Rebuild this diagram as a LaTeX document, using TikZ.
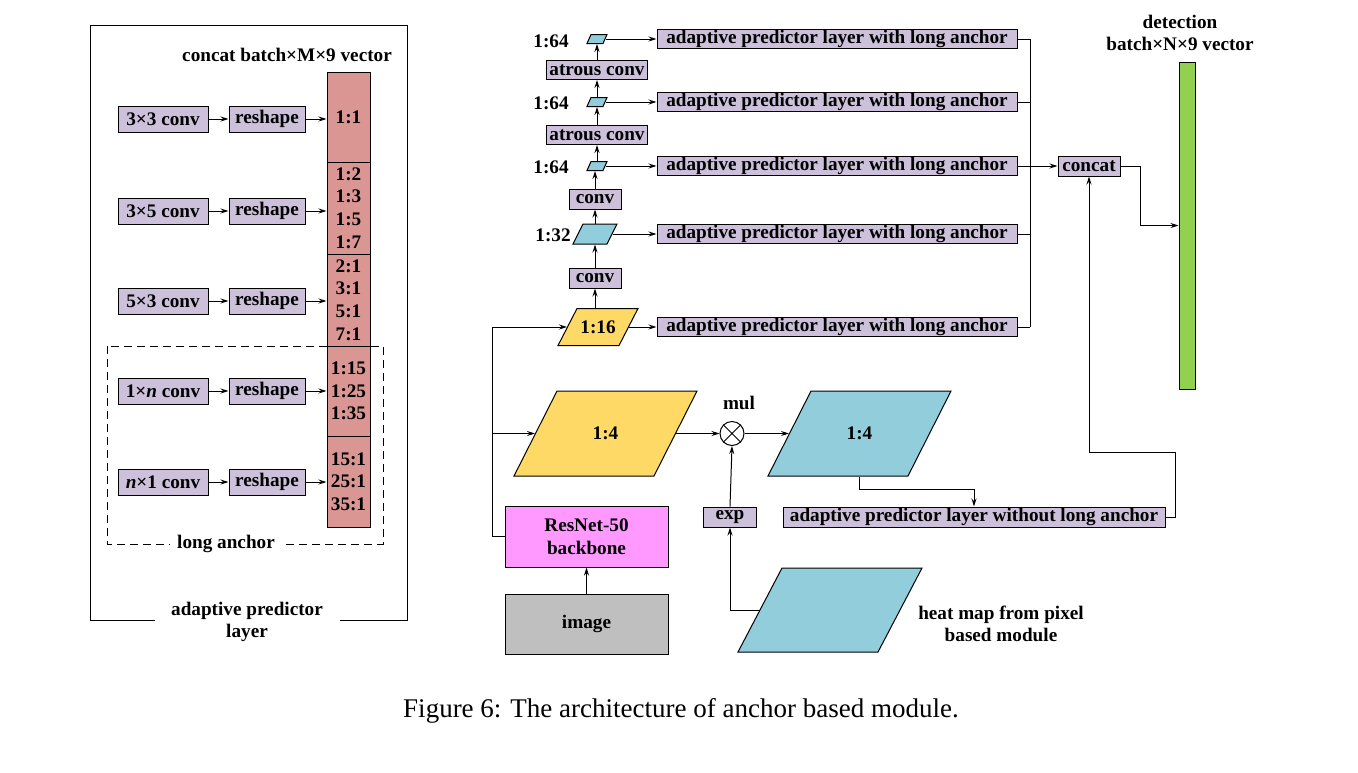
\documentclass[tikz,border=0pt]{standalone}
\usepackage{fontspec}
\setmainfont{Liberation Serif}
\usetikzlibrary{arrows.meta,calc}
\definecolor{lav}{RGB}{204,192,218}
\definecolor{colred}{RGB}{217,150,146}
\definecolor{yel}{RGB}{255,217,102}
\definecolor{cya}{RGB}{146,205,220}
\definecolor{grn}{RGB}{146,208,80}
\definecolor{mag}{RGB}{255,153,255}
\definecolor{gry}{RGB}{191,191,191}
\newcommand\fbx{\fontsize{19.2}{22.6}\selectfont\bfseries}
\newcommand\pgram[8]{%
  \draw[fill=#7,line join=miter] ({#2-#4/2},{#3+#5/2}) -- ({#2+#4/2-#6},{#3+#5/2}) -- ({#2+#4/2},{#3-#5/2}) -- ({#2-#4/2+#6},{#3-#5/2}) -- cycle;
  \node[inner sep=0pt, minimum width={(#4-#6)*1pt}, minimum height={#5*1pt}, font=\fbx] (#1) at (#2,#3) {#8};
}
\begin{document}
\begin{tikzpicture}[x=1pt,y=-1pt,line width=1pt,
  lbox/.style={draw, fill=lav, inner sep=0pt, minimum height=#1, font=\fbx},
  lbox/.default=26pt,
  seg/.style={draw, fill=colred, inner sep=0pt, minimum width=43pt, align=center, font=\fbx},
  arr/.style={-{Stealth[length=8pt,width=5pt]}},
  lbl/.style={font=\fbx, inner sep=0pt, align=center}]
\useasboundingbox (0,0) rectangle (1358,772);

% ---------- left panel ----------
\node[lbl, anchor=center] (apl) at (247,622) {adaptive predictor\\layer};
\draw (155,620) -| (90,25) -| (407,620) -- (340,620);
\node[lbl] (cat) at (287,55) {concat batch×M×9 vector};
\draw[dash pattern=on 8pt off 5pt] (107,346) rectangle (383,544);
\node[lbl, fill=white, inner xsep=7pt, inner ysep=2pt] (la) at (226,544) {long anchor};

\node[seg, minimum height=90pt] (s1) at (348.5,117) {1:1};
\node[seg, minimum height=92pt] (s2) at (348.5,208) {1:2\\1:3\\1:5\\1:7};
\node[seg, minimum height=92pt] (s3) at (348.5,300) {2:1\\3:1\\5:1\\7:1};
\node[seg, minimum height=90pt] (s4) at (348.5,391) {1:15\\1:25\\1:35};
\node[seg, minimum height=91pt] (s5) at (348.5,481.5) {15:1\\25:1\\35:1};

\node[lbox, minimum width=90pt] (c1) at (163,119) {3×3 conv};
\node[lbox, minimum width=90pt] (c2) at (163,211) {3×5 conv};
\node[lbox, minimum width=90pt] (c3) at (163,301) {5×3 conv};
\node[lbox, minimum width=90pt] (c4l) at (163,391) {1×\textit{n} conv};
\node[lbox, minimum width=90pt] (c5) at (163,482) {\textit{n}×1 conv};
\foreach \i/\y in {1/119,2/211,3/301,4/391,5/482}{
  \node[lbox, minimum width=76pt] (r\i) at (267,\y) {reshape};
}
\draw[arr] (c1) -- (r1); \draw[arr] (r1) -- (r1 -| s1.west);
\draw[arr] (c2) -- (r2); \draw[arr] (r2) -- (r2 -| s2.west);
\draw[arr] (c3) -- (r3); \draw[arr] (r3) -- (r3 -| s3.west);
\draw[arr] (c4l) -- (r4); \draw[arr] (r4) -- (r4 -| s4.west);
\draw[arr] (c5) -- (r5); \draw[arr] (r5) -- (r5 -| s5.west);

% ---------- feature pyramid ----------
\pgram{p64a}{597}{39}{20}{9}{4}{cya}{}
\pgram{p64b}{597}{102}{20}{9}{4}{cya}{}
\pgram{p64c}{597}{166}{20}{9}{4}{cya}{}
\pgram{p32}{595}{234}{44}{20}{10}{cya}{}
\pgram{p16}{598}{327}{80}{37}{19}{yel}{1:16}
\node[lbl] (l64a) at (551,41) {1:64};
\node[lbl] (l64b) at (551,103) {1:64};
\node[lbl] (l64c) at (551,167) {1:64};
\node[lbl] (l32) at (553,235) {1:32};
\node[lbox=19pt, minimum width=101pt] (atr1) at (597,70) {atrous conv};
\node[lbox=19pt, minimum width=101pt] (atr2) at (597,135) {atrous conv};
\node[lbox=20pt, minimum width=52pt] (conv1) at (595,199) {conv};
\node[lbox=20pt, minimum width=52pt] (conv2) at (595,278) {conv};
\draw[arr] (p16.north -| conv2) -- (conv2.south);
\draw[arr] (conv2.north) -- (conv2.north |- p32.south);
\draw[arr] (conv1.south |- p32.north) -- (conv1.south);
\draw[arr] (conv1.north) -- (conv1.north |- p64c.south);
\draw[arr] (atr2.south |- p64c.north) -- (atr2.south);
\draw[arr] (atr2.north) -- (atr2.north |- p64b.south);
\draw[arr] (atr1.south |- p64b.north) -- (atr1.south);
\draw[arr] (atr1.north) -- (atr1.north |- p64a.south);

\foreach \n/\y/\p in {1/39/p64a,2/102/p64b,3/166/p64c,4/234/p32,5/327/p16}{
  \node[lbox=19pt, minimum width=360pt] (ap\n) at (837,\y) {adaptive predictor layer with long anchor};
  \draw[arr] (\p.east) -- (ap\n.west);
}
\coordinate (bus) at (1030,166);
\foreach \n in {1,...,5}{ \draw (ap\n.east) -- (ap\n.east -| bus); }
\draw (ap1.east -| bus) -- (ap5.east -| bus);
\node[lbox=20pt, minimum width=62pt] (concat) at (1089,166) {concat};
\draw[arr] (bus) -- (concat.west);
\node[draw, fill=grn, inner sep=0pt, minimum width=16pt, minimum height=327pt] (green) at (1187,225.5) {};
\node[lbl] (det) at (1180,33) {detection\\batch×N×9 vector};
\draw[arr] (concat.east) -- ++(20,0) |- (green.west);

% ---------- bottom ----------
\pgram{y4}{605.5}{433.5}{183}{85}{43}{yel}{1:4}
\pgram{c4}{859.5}{433.5}{183}{85}{43}{cya}{1:4}
\pgram{heat}{830}{610}{184}{84}{44}{cya}{}
\node[draw, circle, fill=white, inner sep=0pt, minimum size=24pt] (mul) at (732,433.5) {};
\draw (mul.north west) -- (mul.south east) (mul.north east) -- (mul.south west);
\node[lbl] (mull) at (739,403) {mul};
\draw[arr] (y4.east) -- (mul.west);
\draw[arr] (mul.east) -- (c4.west);
\node[lbox=20pt, minimum width=53pt] (exp) at (730,517) {exp};
\draw[arr] (exp.north) -- (mul.south);
\draw[arr] (heat.west) -| (exp.south);
\node[lbl] (heatl) at (1001,624) {heat map from pixel\\based module};
\node[lbox=20pt, minimum width=382pt] (ad0) at (974,517) {adaptive predictor layer without long anchor};
\draw[arr] (c4.south) -- ++(0,13) -| (ad0.north);
\draw[arr] (ad0.east) -- ++(10,0) -- ++(0,-65) -| (concat.south);

\node[draw, fill=mag, inner sep=0pt, minimum width=163pt, minimum height=61pt, align=center, font=\fbx] (resnet) at (586.5,536.5) {ResNet-50\\backbone};
\node[draw, fill=gry, inner sep=0pt, minimum width=163pt, minimum height=60pt, font=\fbx] (image) at (586.5,624) {image};
\draw[arr] (image.north) -- (resnet.south);
\draw (resnet.west) -- ++(-12,0) coordinate (rl);
\draw[arr] (rl) |- (p16.west);
\draw[arr] (rl |- y4.west) -- (y4.west);

% ---------- caption ----------
\node[font=\fontsize{27}{31}\selectfont, inner sep=0pt] (cap) at (681,711) {Figure 6: The architecture of anchor based module.};
\end{tikzpicture}
\end{document}
